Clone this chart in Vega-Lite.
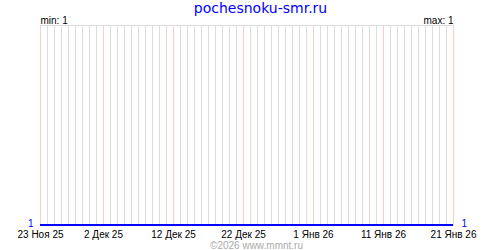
{
  "$schema": "https://vega.github.io/schema/vega-lite/v6.json",
  "width": 413,
  "height": 200,
  "autosize": {"type": "none"},
  "padding": {"left": 40, "top": 25, "right": 47, "bottom": 25},
  "background": "white",
  "title": {
    "text": "pochesnoku-smr.ru",
    "color": "#0000ff",
    "font": "DejaVu Sans",
    "fontSize": 14,
    "fontWeight": "normal",
    "anchor": "middle",
    "frame": "group",
    "dx": 14,
    "offset": 0
  },
  "config": {"view": {"stroke": null}},
  "data": {
    "values": [
      {"date": "2025-11-23", "count": 1}, {"date": "2025-11-24", "count": 1}, {"date": "2025-11-25", "count": 1}, {"date": "2025-11-26", "count": 1},
      {"date": "2025-11-27", "count": 1}, {"date": "2025-11-28", "count": 1}, {"date": "2025-11-29", "count": 1}, {"date": "2025-11-30", "count": 1},
      {"date": "2025-12-01", "count": 1}, {"date": "2025-12-02", "count": 1}, {"date": "2025-12-03", "count": 1}, {"date": "2025-12-04", "count": 1},
      {"date": "2025-12-05", "count": 1}, {"date": "2025-12-06", "count": 1}, {"date": "2025-12-07", "count": 1}, {"date": "2025-12-08", "count": 1},
      {"date": "2025-12-09", "count": 1}, {"date": "2025-12-10", "count": 1}, {"date": "2025-12-11", "count": 1}, {"date": "2025-12-12", "count": 1},
      {"date": "2025-12-13", "count": 1}, {"date": "2025-12-14", "count": 1}, {"date": "2025-12-15", "count": 1}, {"date": "2025-12-16", "count": 1},
      {"date": "2025-12-17", "count": 1}, {"date": "2025-12-18", "count": 1}, {"date": "2025-12-19", "count": 1}, {"date": "2025-12-20", "count": 1},
      {"date": "2025-12-21", "count": 1}, {"date": "2025-12-22", "count": 1}, {"date": "2025-12-23", "count": 1}, {"date": "2025-12-24", "count": 1},
      {"date": "2025-12-25", "count": 1}, {"date": "2025-12-26", "count": 1}, {"date": "2025-12-27", "count": 1}, {"date": "2025-12-28", "count": 1},
      {"date": "2025-12-29", "count": 1}, {"date": "2025-12-30", "count": 1}, {"date": "2025-12-31", "count": 1}, {"date": "2026-01-01", "count": 1},
      {"date": "2026-01-02", "count": 1}, {"date": "2026-01-03", "count": 1}, {"date": "2026-01-04", "count": 1}, {"date": "2026-01-05", "count": 1},
      {"date": "2026-01-06", "count": 1}, {"date": "2026-01-07", "count": 1}, {"date": "2026-01-08", "count": 1}, {"date": "2026-01-09", "count": 1},
      {"date": "2026-01-10", "count": 1}, {"date": "2026-01-11", "count": 1}, {"date": "2026-01-12", "count": 1}, {"date": "2026-01-13", "count": 1},
      {"date": "2026-01-14", "count": 1}, {"date": "2026-01-15", "count": 1}, {"date": "2026-01-16", "count": 1}, {"date": "2026-01-17", "count": 1},
      {"date": "2026-01-18", "count": 1}, {"date": "2026-01-19", "count": 1}, {"date": "2026-01-20", "count": 1}, {"date": "2026-01-21", "count": 1}
    ]
  },
  "resolve": {"axis": {"x": "independent", "y": "independent"}},
  "layer": [
    {
      "mark": {"type": "line", "color": "#0000ff", "strokeWidth": 1.5},
      "encoding": {
        "x": {
          "field": "date", "type": "temporal",
          "scale": {"type": "utc", "nice": false,
            "domain": [{"year": 2025, "month": 11, "date": 23, "utc": true}, {"year": 2026, "month": 1, "date": 21, "utc": true}]},
          "axis": {
            "orient": "bottom", "title": null, "labels": false, "ticks": false, "domain": false,
            "grid": true, "gridColor": "#dddddd", "gridWidth": 1, "gridOpacity": 1,
            "tickCount": {"interval": "day", "step": 1}
          }
        },
        "y": {
          "field": "count", "type": "quantitative",
          "scale": {"domain": [1, 2], "nice": false, "zero": false},
          "axis": {
            "orient": "left", "title": null, "values": [1], "ticks": false, "domain": false, "grid": false,
            "labelColor": "#0000ff", "labelFont": "Liberation Sans", "labelFontSize": 10, "labelFontWeight": "normal",
            "labelPadding": 7, "labelBaseline": "alphabetic", "labelOffset": 1.5
          }
        }
      }
    },
    {
      "mark": {"type": "line", "color": "#0000ff", "strokeWidth": 1.5},
      "encoding": {
        "x": {
          "field": "date", "type": "temporal",
          "axis": {
            "orient": "bottom", "ticks": false, "domain": false,
            "grid": true, "gridColor": "#ffcccc", "gridWidth": 1, "gridOpacity": 1,
            "values": [
              {"year": 2025, "month": 11, "date": 23, "utc": true},
              {"year": 2025, "month": 12, "date": 2, "utc": true},
              {"year": 2025, "month": 12, "date": 12, "utc": true},
              {"year": 2025, "month": 12, "date": 22, "utc": true},
              {"year": 2026, "month": 1, "date": 1, "utc": true},
              {"year": 2026, "month": 1, "date": 11, "utc": true},
              {"year": 2026, "month": 1, "date": 21, "utc": true}
            ],
            "labelExpr": "utcdate(datum.value) + ' ' + ['Янв','Фев','Мар','Апр','Май','Июн','Июл','Авг','Сен','Окт','Ноя','Дек'][utcmonth(datum.value)] + ' ' + utcFormat(datum.value, '%y')",
            "labelFont": "Liberation Sans", "labelFontSize": 10, "labelColor": "#000000",
            "labelBaseline": "alphabetic", "labelPadding": 12,
            "labelFlush": false, "labelOverlap": false, "labelBound": false,
            "title": "©2026 www.mmnt.ru",
            "titleFont": "Liberation Sans", "titleFontSize": 10, "titleFontWeight": "normal", "titleColor": "#aaaaaa",
            "titleX": 216, "titleY": 23, "titleAlign": "center", "titleBaseline": "alphabetic", "titleAnchor": null
          }
        },
        "y": {
          "field": "count", "type": "quantitative",
          "axis": {
            "orient": "right", "title": null, "values": [1], "ticks": false, "domain": false, "grid": false,
            "labelColor": "#0000ff", "labelFont": "Liberation Sans", "labelFontSize": 10, "labelFontWeight": "normal",
            "labelPadding": 8, "labelBaseline": "alphabetic", "labelOffset": 1.5
          }
        }
      }
    },
    {
      "mark": {"type": "line", "color": "#0000ff", "strokeWidth": 1.5},
      "encoding": {
        "x": {
          "field": "date", "type": "temporal",
          "axis": {
            "orient": "top", "title": null, "ticks": false, "grid": false,
            "domain": true, "domainColor": "#dddddd", "domainWidth": 1,
            "values": [
              {"year": 2025, "month": 11, "date": 23, "utc": true},
              {"year": 2026, "month": 1, "date": 21, "utc": true}
            ],
            "labelExpr": "datum.value < datetime(2025, 11, 20) ? 'min: 1' : 'max: 1'",
            "labelFlush": true, "labelOverlap": false, "labelBound": false,
            "labelFont": "Liberation Sans", "labelFontSize": 10, "labelColor": "#000000",
            "labelBaseline": "alphabetic", "labelPadding": 1.5
          }
        },
        "y": {"field": "count", "type": "quantitative", "axis": null}
      }
    }
  ]
}
